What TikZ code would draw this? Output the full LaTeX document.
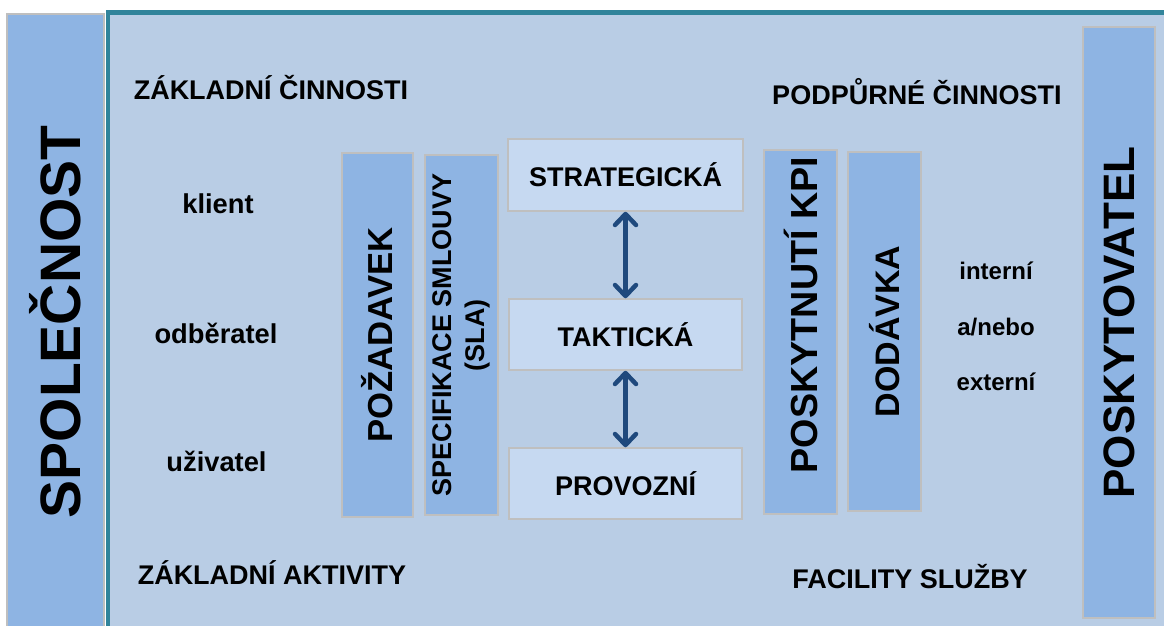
\documentclass[tikz,border=0pt]{standalone}
\usepackage{fontspec}
\setmainfont{Liberation Sans}
\usetikzlibrary{arrows.meta}
\definecolor{panelblue}{HTML}{B9CDE5}
\definecolor{boxblue}{HTML}{8EB4E3}
\definecolor{lightbox}{HTML}{C6D9F1}
\definecolor{edgegray}{HTML}{BFBFBF}
\definecolor{frameteal}{HTML}{31849B}
\definecolor{arrowblue}{HTML}{1F497D}
\newcommand{\fs}[1]{\bfseries\fontsize{#1}{#1}\selectfont}
\begin{document}
\begin{tikzpicture}[x=1pt,y=-1pt,
  bar/.style={draw=edgegray, line width=2pt, fill=boxblue, inner sep=0pt, rotate=90, align=center},
  levelbox/.style={draw=edgegray, line width=1.5pt, fill=lightbox, inner sep=0pt, minimum width=233pt, minimum height=71pt, font=\fs{27}},
  heading/.style={font=\fs{27}},
  item/.style={font=\fs{27.3}},
  smallitem/.style={font=\fs{24}},
  dblarrow/.style={draw=arrowblue, line width=4.5pt, {Straight Barb[length=11pt,width=21pt,round]}-{Straight Barb[length=11pt,width=21pt,round]}}
]
\useasboundingbox (0,0) rectangle (1164,625);
\fill[white] (0,0) rectangle (1164,625);
% main panel
\fill[panelblue] (108,12.5) rectangle (1170,630);
\draw[frameteal, line width=4.5pt] (108,630) -- (108,12.5) -- (1170,12.5);
% side bars
\node[bar, minimum width=616pt, minimum height=97pt, font=\fs{57}] (spol) at (55.5,322) {SPOLEČNOST};
\node[bar, minimum width=591pt, minimum height=72pt, font=\fs{44}] (posk) at (1119,322.5) {POSKYTOVATEL};
% inner bars
\node[bar, minimum width=364pt, minimum height=71pt, font=\fs{34.7}] (pozad) at (377.5,335) {POŽADAVEK};
\node[bar, minimum width=360pt, minimum height=73pt, font=\fs{27}] (spec) at (461.5,335) {SPECIFIKACE SMLOUVY\\[6pt](SLA)};
\node[bar, minimum width=364pt, minimum height=73pt] (kpibox) at (800.5,332) {};
\node[rotate=90, font=\fs{37.7}] (kpi) at (800.5,315) {POSKYTNUTÍ KPI};
\node[bar, minimum width=359pt, minimum height=73pt, font=\fs{34}] (dod) at (884.5,331.5) {DODÁVKA};
% level boxes
\node[levelbox, minimum width=235pt, minimum height=72pt] (strat) at (625.5,175) {STRATEGICKÁ};
\node[levelbox] (takt) at (625.5,334.5) {TAKTICKÁ};
\node[levelbox] (prov) at (625.5,483.5) {PROVOZNÍ};
\draw[dblarrow] (strat) -- (takt);
\draw[dblarrow] (takt) -- (prov);
% headings
\node[heading] (zc) at (271,88) {ZÁKLADNÍ ČINNOSTI};
\node[heading] (pc) at (917,92) {PODPŮRNÉ ČINNOSTI};
\node[heading] (za) at (272,573) {ZÁKLADNÍ AKTIVITY};
\node[heading] (fs) at (910,577) {FACILITY SLUŽBY};
% left items
\node[item] (kl) at (218,204) {klient};
\node[item] (od) at (216,333) {odběratel};
\node[item] (uz) at (216.5,461) {uživatel};
% right items
\node[smallitem] (in) at (996,271) {interní};
\node[smallitem] (an) at (996,327) {a/nebo};
\node[smallitem] (ex) at (996,382) {externí};
\end{tikzpicture}
\end{document}
